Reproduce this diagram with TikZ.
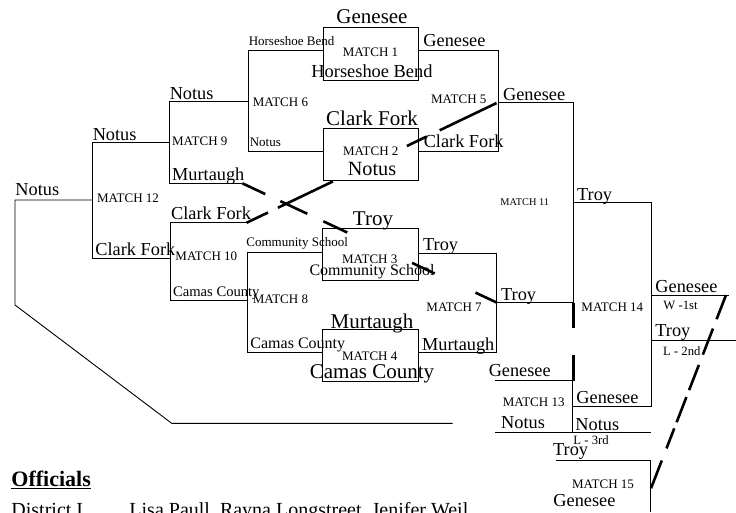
\documentclass[tikz,border=0pt]{standalone}
\usepackage{fontspec}
\setmainfont{Liberation Serif}
\usetikzlibrary{positioning,calc}
\newcommand*{\fs}[1]{\fontsize{#1}{#1}\selectfont}

\begin{document}
\begin{tikzpicture}[x=1pt,y=-1pt,line width=0.9pt,
  lbl/.style={anchor=base west,inner sep=0pt},
  mid/.style={anchor=base,inner sep=0pt},
  big/.style={mid,font=\fs{21}},
  team/.style={lbl,font=\fs{18.3}},
  small/.style={lbl,font=\fs{13}},
  match/.style={lbl,font=\fs{13}},
  place/.style={lbl,font=\fs{12.7}},
  box/.style={draw,minimum width=95.5pt,minimum height=52.3pt,inner sep=0pt},
  adv/.style={line width=2.6pt}]
\useasboundingbox (0,0) rectangle (736,512);
% Boxes of the first round
\node[box] (m1) at (370.8,53.9) {};
\node[box] (m2) at (370.8,154.5) {};
\node[box] (m3) at (370.6,254.2) {};
\node[box] (m4) at (370.6,355.5) {};
% Brackets of the first round
\draw (m1.west |- 0,50) -- (248.3,50) -- (248.3,151.7) -- (m2.west |- 0,151.7);
\draw (m1.east |- 0,50) -- (498,50) -- (498,151.7) -- (m2.east |- 0,151.7);
\draw (m3.west |- 0,252.7) -- (247.3,252.7) -- (247.3,352.7) -- (m4.west |- 0,352.7);
\draw (m3.east |- 0,253.3) -- (496.7,253.3) -- (496.7,352.7) -- (m4.east |- 0,352.7);
% Left side
\draw (248.3,101.7) -- (169,101.7) -- (169,183.3) -- (242.3,183.3);
\draw (246.7,222.7) -- (170,222.7) -- (170,300.7) -- (247.3,300.7);
\draw (169,142.7) -- (92.3,142.7) -- (92.3,258.3) -- (170,258.3);
\draw (92.3,200) -- (15,200) -- (15,305) -- (171.7,423.3) -- (452.7,423.3);
% Right side
\draw (498,102.7) -- (573.3,102.7) -- (573.3,302.7) -- (497,302.7);
\draw (573.3,202.7) -- (651,202.7) -- (651,406) -- (572,406);
\draw (495,380.7) -- (572,380.7) -- (572,432);
\draw (495,432) -- (651,432);
\draw (651,295) -- (728.7,295);
\draw (651,340) -- (736,340);
\draw (556,460) -- (650.7,460) -- (650.7,512);
% Names in the boxes
\node[big] (w1) at (372,23) {Genesee};
\node[mid,font=\fs{13}] (t1) at (370.5,56.7) {MATCH 1};
\node[mid,font=\fs{18.4}] (l1) at (372,77) {Horseshoe Bend};
\node[big] (w2) at (372,125) {Clark Fork};
\node[mid,font=\fs{13}] (t2) at (370.8,155) {MATCH 2};
\node[mid,font=\fs{20.2}] (l2) at (372,175) {Notus};
\node[big] (w3) at (373,225) {Troy};
\node[mid,font=\fs{13}] (t3) at (369.7,263.3) {MATCH 3};
\node[mid,font=\fs{16}] (l3) at (372,275) {Community School};
\node[big] (w4) at (372,328.3) {Murtaugh};
\node[mid,font=\fs{13}] (t4) at (369.7,360) {MATCH 4};
\node[mid,font=\fs{21}] (l4) at (372,378.3) {Camas County};
% Names on the lines
\node[small] at (248.3,45.7) {Horseshoe Bend};
\node[small] at (249.3,146.7) {Notus};
\node[small] at (246,246.7) {Community School};
\node[lbl,font=\fs{16}] at (250,348.3) {Camas County};
\node[lbl,font=\fs{14.6}] at (172.7,296.7) {Camas County};
\node[team] at (423,46.7) {Genesee};
\node[team] at (423.3,147.3) {Clark Fork};
\node[team] at (422.7,250.7) {Troy};
\node[team] at (421.7,350) {Murtaugh};
\node[team] at (169.3,99.3) {Notus};
\node[team] at (171.7,180) {Murtaugh};
\node[team] at (170.7,219.3) {Clark Fork};
\node[team] at (92.3,140) {Notus};
\node[team] at (95,255) {Clark Fork};
\node[team] at (15,195) {Notus};
\node[team] at (502.7,100) {Genesee};
\node[team] at (500.7,300) {Troy};
\node[team] at (576.7,200.7) {Troy};
\node[team] at (488.3,376.7) {Genesee};
\node[team] at (500.7,428.3) {Notus};
\node[team] at (576,403.3) {Genesee};
\node[team] at (575,430) {Notus};
\node[team] at (655,292.7) {Genesee};
\node[team] at (655,336.7) {Troy};
\node[team] at (552.7,455) {Troy};
\node[team] at (553,506.7) {Genesee};
\node[place] at (663,309) {W -1st};
\node[place] at (662.7,355) {L - 2nd};
\node[place] at (573,444) {L - 3rd};
% Match numbers
\node[match] at (430.7,103) {MATCH 5};
\node[match] at (252.3,106) {MATCH 6};
\node[match] at (426,311.7) {MATCH 7};
\node[match] at (252.3,303.3) {MATCH 8};
\node[match] at (171.7,145) {MATCH 9};
\node[match] at (175,260) {MATCH 10};
\node[lbl,font=\fs{10.3}] at (500,205) {MATCH 11};
\node[match] at (96.7,202.7) {MATCH 12};
\node[match] at (502.3,406) {MATCH 13};
\node[match] at (581,311.7) {MATCH 14};
\node[match] at (571.7,488) {MATCH 15};
% Thick dashed lines
\draw[adv,dash pattern=on 23.6pt off 11pt on 61pt off 82pt on 22pt off 14.4pt on 63pt]
  (246.7,222.7) -- (497.3,102.7);
\draw[adv,dash pattern=on 25.4pt off 16.6pt on 29.8pt off 17.7pt on 26.5pt off 71.5pt on 25pt off 45pt on 24.3pt]
  (242.3,183.3) -- (497,302.7);
\draw[adv,dash pattern=on 25.6pt off 26.7pt on 25.7pt] (573.3,302.7) -- (573.3,380.7);
\draw[adv,dash pattern=on 26pt off 10pt on 28pt off 11pt on 27pt off 7.5pt on 27pt off 6.5pt on 21.5pt off 13pt on 30pt]
  (726,295) -- (651,488.3);
% Officials
\node[lbl,font=\fs{22}\bfseries] (off) at (11,486) {Officials};
\draw[line width=1.2pt] ($(off.base west)+(0,2.5)$) -- ($(off.base east)+(0,2.5)$);
\node[lbl,font=\fs{20}] (dist) at (11,516) {District I};
\node[lbl,font=\fs{20}] (names) at (129,516) {Lisa Paull, Rayna Longstreet, Jenifer Weil};
\end{tikzpicture}
\end{document}
